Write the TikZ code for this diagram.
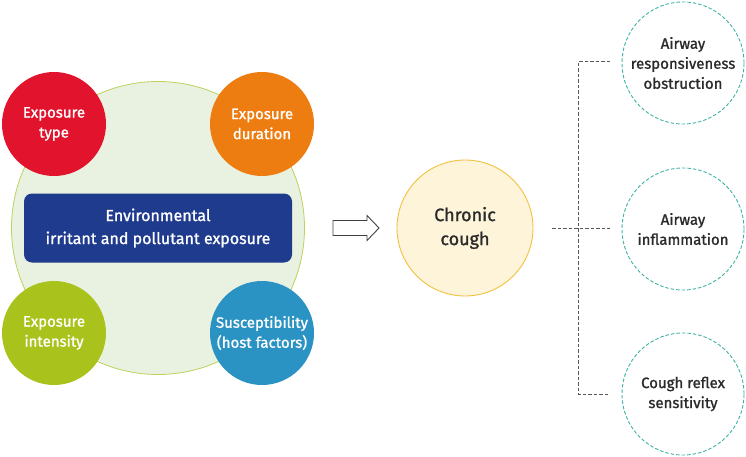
\documentclass[tikz,border=0pt]{standalone}
\usepackage{fontspec}
\setmainfont{Fira Sans}
\newfontfamily\medfont{Fira Sans}[FakeBold=1.2]
\definecolor{cred}{HTML}{E2142D}
\definecolor{corange}{HTML}{EE7D11}
\definecolor{cgreen}{HTML}{AAC31C}
\definecolor{cblue}{HTML}{2B93C3}
\definecolor{cnavy}{HTML}{1F3B8E}
\definecolor{bigfill}{HTML}{E9F2E1}
\definecolor{bigline}{HTML}{BCD25A}
\definecolor{yfill}{HTML}{FDF4DA}
\definecolor{yline}{HTML}{EFC23E}
\definecolor{teal}{HTML}{3FB2A5}
\definecolor{txt}{HTML}{2A2A2A}
\begin{document}
\begin{tikzpicture}[x=1pt,y=-1pt,
  factor/.style={circle,minimum size=104pt,inner sep=0pt,align=center,text=white,
    font=\fontsize{15}{20}\medfont},
  outcome/.style={circle,draw=teal,dash pattern=on 3.5pt off 2pt,line width=0.9pt,minimum size=122pt,inner sep=0pt,
    align=center,text=txt,font=\fontsize{15}{20}\medfont},
  conn/.style={draw=black!65,dash pattern=on 3.5pt off 2pt,line width=1pt}]
\useasboundingbox (0,0) rectangle (746,457);
\node[circle,fill=bigfill,draw=bigline,line width=0.8pt,minimum size=293pt,inner sep=0pt] (big) at (158,228) {};
\node[factor,fill=cred] (type) at (54,124) {Exposure\\type};
\node[factor,fill=corange] (dur) at (262,124) {Exposure\\duration};
\node[factor,fill=cgreen] (int) at (54,333) {Exposure\\intensity};
\node[factor,fill=cblue] (sus) at (262,333) {Susceptibility\\(host factors)};
\node[rectangle,rounded corners=8pt,fill=cnavy,minimum width=268pt,minimum height=69pt,
  text=white,align=center,font=\fontsize{16}{23}\medfont] (env) at (158,228)
  {Environmental\\irritant and pollutant exposure};
\coordinate (arr) at (333,228);
\draw[draw=black!75,fill=white,line width=0.9pt,line join=miter]
  (arr) ++(0,-7.5) -- ++(34,0) -- ++(0,-5) -- ++(12,12.5) -- ++(-12,12.5) -- ++(0,-5) -- ++(-34,0) -- cycle;
\node[circle,fill=yfill,draw=yline,line width=0.9pt,minimum size=136pt,inner sep=0pt,align=center,
  text=txt,font=\fontsize{18}{24}\medfont] (cc) at (465,228) {Chronic\\cough};
\node[outcome] (o1) at (683,63) {Airway\\responsiveness\\obstruction};
\node[outcome] (o2) at (683,229) {Airway\\inflammation};
\node[outcome] (o3) at (683,394) {Cough reflex\\sensitivity};
\coordinate (s) at (552,228);
\coordinate (j) at (578,228);
\coordinate (jt) at (578,62);
\coordinate (jb) at (578,394);
\draw[conn] (s) -- (610,228);
\draw[conn] (610,62) -- (jt) -- (jb) -- (610,394);
\end{tikzpicture}
\end{document}
